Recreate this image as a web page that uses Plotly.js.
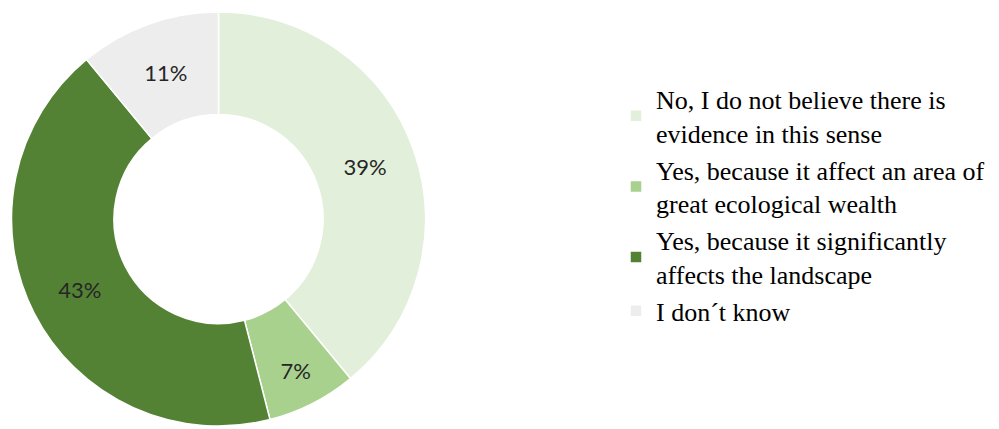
<!DOCTYPE html>
<html><head><meta charset="utf-8">
<script src="https://cdn.plot.ly/plotly-3.0.1.min.js"></script>
<style>html,body{margin:0;padding:0;background:#fff}#c{width:999px;height:429px}</style>
</head><body><div id="c"></div>
<script>
const labels = [
  "No, I do not believe there is<br>evidence in this sense",
  "Yes, because it affect an area of<br>great ecological wealth",
  "Yes, because it significantly<br>affects the landscape",
  "I don´t know"
];
const values = [39, 7, 43, 11];
const colors = ["#E2EFDA", "#A9D18E", "#548235", "#EDEDED"];

const W = 999, H = 429;
Plotly.newPlot("c", [{
  type: "pie",
  labels: labels,
  values: values,
  hole: 0.505,
  sort: false,
  direction: "clockwise",
  rotation: 0,
  marker: {colors: colors, line: {color: "#ffffff", width: 1.5}},
  textinfo: "percent",
  textposition: "inside",
  insidetextorientation: "horizontal",
  textfont: {family: "Lato, 'Open Sans', sans-serif", size: 22, color: "#262626"},
  domain: {x: [10 / W, 427 / W], y: [(H - 426) / H, (H - 12) / H]},
  hoverinfo: "label+percent"
}], {
  width: W, height: H,
  margin: {l: 0, r: 0, t: 0, b: 0},
  paper_bgcolor: "#ffffff",
  showlegend: true,
  legend: {
    x: 616 / W, xanchor: "left",
    y: 0.824, yanchor: "top",
    font: {family: "'Liberation Serif', 'Times New Roman', serif", size: 26, color: "#000000"},
    bgcolor: "rgba(0,0,0,0)",
    traceorder: "normal"
  }
}, {displayModeBar: false, staticPlot: true});
</script>
</body></html>
